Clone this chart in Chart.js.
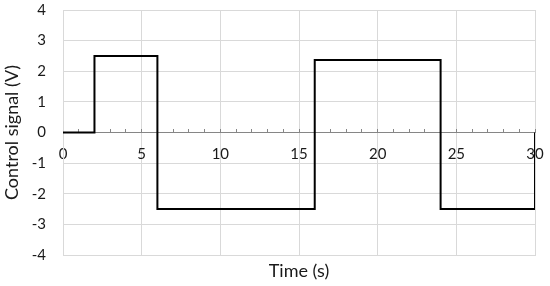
<!DOCTYPE html>
<html>
<head>
<meta charset="utf-8">
<script src="https://cdn.jsdelivr.net/npm/chart.js@4"></script>
<style>
  html, body { margin: 0; padding: 0; background: #fff; }
  #wrap { width: 550px; height: 286px; }
</style>
</head>
<body>
<div id="wrap"><canvas id="chart" width="550" height="286"></canvas></div>
<script>
// Control signal: step changes over time
const times = [0, 2, 6, 16, 24, 30];
const levels = [0, 2.5, -2.5, 2.37, -2.5, 0];

const FONT = "Lato, 'Open Sans', sans-serif";
const GRID = '#d9d9d9';
const AXIS = '#868686';
const TEXT = '#1a1a1a';

new Chart(document.getElementById('chart'), {
  type: 'line',
  data: {
    datasets: [{
      label: 'Control signal',
      data: times.map((t, i) => ({ x: t, y: levels[i] })),
      stepped: 'before',
      borderColor: '#000',
      borderWidth: 2,
      pointRadius: 0,
      fill: false
    }]
  },
  options: {
    responsive: false,
    animation: false,
    layout: { padding: { top: 10, right: 15, bottom: 0, left: 0 } },
    plugins: { legend: { display: false }, tooltip: { enabled: false } },
    scales: {
      x: {
        type: 'linear',
        position: 'bottom',
        min: 0, max: 30,
        ticks: { display: false, stepSize: 5, padding: 0 },
        grid: { color: GRID, drawTicks: false },
        border: { color: GRID },
        title: {
          display: true, text: 'Time (s)', color: TEXT,
          font: { family: FONT, size: 18 }, padding: 4
        },
        afterFit: s => { s.height = 31; }
      },
      // value axis drawn across y = 0, with the labels and minor ticks
      x2: {
        type: 'linear',
        axis: 'x',
        position: { y: 0 },
        min: 0, max: 30,
        ticks: {
          stepSize: 1, autoSkip: false, maxRotation: 0, padding: 3,
          color: TEXT, font: { family: FONT, size: 15, lineHeight: 3.07 },
          callback: v => (v % 5 === 0 ? String(v) : '')
        },
        grid: { drawOnChartArea: false, drawTicks: true, tickLength: -4, color: AXIS },
        border: { color: AXIS, width: 1 }
      },
      y: {
        min: -4, max: 4,
        ticks: {
          stepSize: 1, padding: 1, color: TEXT,
          font: { family: FONT, size: 15 }
        },
        grid: { color: GRID, drawTicks: true, tickLength: 16, tickColor: 'transparent' },
        border: { color: GRID },
        title: {
          display: true, text: 'Control signal (V)', color: TEXT,
          font: { family: FONT, size: 18 }, padding: 1
        },
        afterFit: s => { s.width = 63; }
      }
    }
  }
});
</script>
</body>
</html>
